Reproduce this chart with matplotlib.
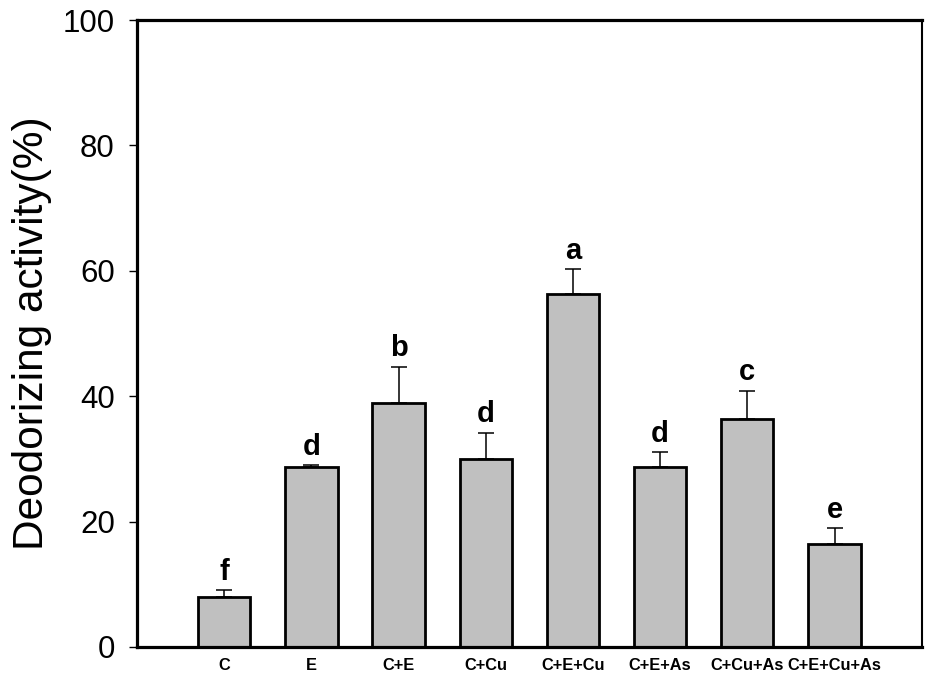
import matplotlib
matplotlib.use("Agg")
import matplotlib.pyplot as plt
from matplotlib import font_manager

# Treatments, mean deodorizing activity (%), upper error and significance letters
categories = ["C", "E", "C+E", "C+Cu", "C+E+Cu", "C+E+As", "C+Cu+As", "C+E+Cu+As"]
activity = [8.0, 28.7, 38.9, 30.0, 56.3, 28.7, 36.3, 16.4]
errors = [1.1, 0.3, 5.8, 4.2, 4.0, 2.4, 4.6, 2.5]
letters = ["f", "d", "b", "d", "a", "d", "c", "e"]
yticks = [0, 20, 40, 60, 80, 100]

names = {f.name for f in font_manager.fontManager.ttflist}
base_font = "Liberation Sans" if "Liberation Sans" in names else "DejaVu Sans"
plt.rcParams["font.family"] = [base_font, "DejaVu Sans"]

fig = plt.figure(figsize=(9.34, 6.81), dpi=100)
ax = fig.add_axes([137 / 934, 34 / 681, (921.7 - 137) / 934, (647 - 20) / 681])

x = list(range(1, len(categories) + 1))
ax.bar(x, activity, width=0.6, color="#c0c0c0", edgecolor="black",
       linewidth=2.0, zorder=2)
ax.errorbar(x, activity, yerr=[[0] * len(errors), errors], fmt="none",
            ecolor="black", elinewidth=1.1, capsize=6, capthick=1.1, zorder=1)

for xi, v, e, lab in zip(x, activity, errors, letters):
    ax.annotate(lab, (xi, v + e), xytext=(0, 7.5), textcoords="offset points",
                ha="center", va="baseline", fontsize=21, fontweight="bold")

ax.set_xlim(0, 9)
ax.set_ylim(0, 100)
ax.set_yticks(yticks)
ax.set_xticks(x)
ax.set_xticklabels(categories, fontsize=11.8, fontweight="bold")
ax.tick_params(axis="x", length=0, pad=8)
ax.tick_params(axis="y", direction="out", length=6, width=1.0, pad=10,
               labelsize=22.5)
ax.set_ylabel("Deodorizing activity(%)", fontsize=30.5, labelpad=8)

for side in ["left", "bottom", "top"]:
    ax.spines[side].set_linewidth(2.3)
ax.spines["right"].set_linewidth(1.5)

fig.savefig("out.png", dpi=100)
